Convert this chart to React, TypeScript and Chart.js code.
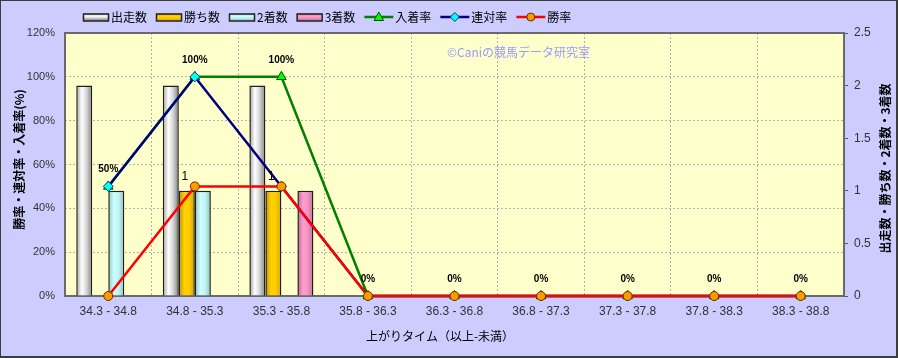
import React, { useEffect, useRef } from 'react';
import { Chart, registerables } from 'chart.js';

Chart.register(...registerables);

const categories = ['34.3 - 34.8', '34.8 - 35.3', '35.3 - 35.8', '35.8 - 36.3', '36.3 - 36.8', '36.8 - 37.3', '37.3 - 37.8', '37.8 - 38.3', '38.3 - 38.8'];
const runs = [2, 2, 2, 0, 0, 0, 0, 0, 0];
const wins = [0, 1, 1, 0, 0, 0, 0, 0, 0];
const seconds = [1, 1, 0, 0, 0, 0, 0, 0, 0];
const thirds = [0, 0, 1, 0, 0, 0, 0, 0, 0];
const placeRate = [50, 100, 100, 0, 0, 0, 0, 0, 0];
const quinellaRate = [50, 100, 50, 0, 0, 0, 0, 0, 0];
const winRate = [0, 50, 50, 0, 0, 0, 0, 0, 0];
const leftTicks = [0, 20, 40, 60, 80, 100, 120];
const rightTicks = [0, 0.5, 1, 1.5, 2, 2.5];

const LEFT_TITLE = '勝率・連対率・入着率(%)';
const RIGHT_TITLE = '出走数・勝ち数・2着数・3着数';
const X_TITLE = '上がりタイム（以上-未満）';
const WATERMARK = '©Caniの競馬データ研究室';

const FONT = '"Liberation Sans", "Noto Sans CJK JP", sans-serif';
const CJK = '"Noto Sans CJK JP", "Liberation Sans", sans-serif';

const CAT_PCT = 0.74;
const BAR_COUNT = 4;
const STOPS = [0, 0.35, 0.65, 1];
const BAR_GRADS = [
  ['#a0a0a0', '#ffffff', '#d4d4d4', '#7c7c7c'],
  ['#c09000', '#ffd200', '#ffcc00', '#d0a000'],
  ['#90c4c4', '#ccffff', '#c0f4f4', '#8cc0c0'],
  ['#c06090', '#ff9fcf', '#f294c4', '#c06c96'],
];

function cylinder(slot: number) {
  return (c: any) => {
    const chart = c.chart;
    const xs = chart.scales && chart.scales.x;
    const cols = BAR_GRADS[slot];
    if (!xs || c.type !== 'data' || !isFinite(xs.left)) return cols[1];
    const catW = (xs.right - xs.left) / categories.length;
    const barW = (catW * CAT_PCT) / BAR_COUNT;
    const cx = xs.getPixelForValue(c.dataIndex) + (slot - (BAR_COUNT - 1) / 2) * barW;
    if (!isFinite(cx)) return cols[1];
    const g = chart.ctx.createLinearGradient(cx - barW / 2, 0, cx + barW / 2, 0);
    STOPS.forEach((s, i) => g.addColorStop(s, cols[i]));
    return g;
  };
}

function drawMarker(ctx: CanvasRenderingContext2D, style: string, x: number, y: number, r: number, bg: string, bd: string) {
  ctx.save();
  ctx.beginPath();
  if (style === 'triangle') {
    ctx.moveTo(x, y - r);
    ctx.lineTo(x + r * 0.95, y + r * 0.7);
    ctx.lineTo(x - r * 0.95, y + r * 0.7);
    ctx.closePath();
  } else if (style === 'rectRot') {
    ctx.moveTo(x, y - r);
    ctx.lineTo(x + r, y);
    ctx.lineTo(x, y + r);
    ctx.lineTo(x - r, y);
    ctx.closePath();
  } else {
    ctx.arc(x, y, r, 0, Math.PI * 2);
  }
  ctx.fillStyle = bg;
  ctx.fill();
  ctx.lineWidth = 1;
  ctx.strokeStyle = bd;
  ctx.stroke();
  ctx.restore();
}

const decorPlugin = {
  id: 'decor',
  beforeDraw(chart: any) {
    const { ctx, chartArea: a } = chart;
    ctx.save();
    ctx.fillStyle = '#ccccff';
    ctx.fillRect(0, 0, chart.width, chart.height);
    ctx.fillStyle = '#ffffcc';
    ctx.fillRect(a.left, a.top, a.right - a.left, a.bottom - a.top);
    ctx.restore();
  },
  beforeDatasetsDraw(chart: any) {
    const { ctx, chartArea: a } = chart;
    ctx.save();
    ctx.strokeStyle = '#6a6a6a';
    ctx.lineWidth = 2;
    ctx.strokeRect(a.left, a.top, a.right - a.left, a.bottom - a.top);
    ctx.restore();
  },
  afterDatasetsDraw(chart: any) {
    const { ctx } = chart;
    const xs = chart.scales.x;
    const ys = chart.scales.y;
    ctx.save();
    ctx.fillStyle = '#000';
    ctx.textAlign = 'center';
    ctx.textBaseline = 'middle';
    ctx.font = 'bold 10px ' + FONT;
    placeRate.forEach((v, i) => {
      ctx.fillText(v + '%', xs.getPixelForValue(i), ys.getPixelForValue(v) - 17);
    });
    ctx.font = '12px ' + FONT;
    wins.forEach((w, i) => {
      if (w > 0) ctx.fillText(String(w), xs.getPixelForValue(i) - 10, ys.getPixelForValue(winRate[i]) - 10);
    });
    ctx.restore();
  },
  afterDraw(chart: any) {
    const { ctx, chartArea: a } = chart;
    ctx.save();
    // watermark
    ctx.font = '12px ' + CJK;
    ctx.fillStyle = '#9999ff';
    ctx.textAlign = 'left';
    ctx.textBaseline = 'middle';
    ctx.fillText(WATERMARK, 447, 52);

    // axis titles
    ctx.fillStyle = '#000';
    ctx.textAlign = 'center';
    ctx.font = '12px ' + CJK;
    ctx.fillText(X_TITLE, 440, 336);
    ctx.font = 'bold 12px ' + CJK;
    ctx.save();
    ctx.translate(19, (a.top + a.bottom) / 2 - 5);
    ctx.rotate(-Math.PI / 2);
    ctx.fillText(LEFT_TITLE, 0, 0);
    ctx.restore();
    ctx.save();
    ctx.translate(885, (a.top + a.bottom) / 2 + 4);
    ctx.rotate(-Math.PI / 2);
    ctx.fillText(RIGHT_TITLE, 0, 0);
    ctx.restore();

    // legend
    const ly = 17;
    let x = 83;
    ctx.font = '12px ' + CJK;
    ctx.textAlign = 'left';
    chart.data.datasets.forEach((ds: any) => {
      if (ds.type === 'bar') {
        const w = 25, h = 7;
        const slot = ds.slot;
        const g = ctx.createLinearGradient(0, ly - h / 2, 0, ly + h / 2);
        STOPS.forEach((s, i) => g.addColorStop(s, BAR_GRADS[slot][i]));
        ctx.fillStyle = g;
        ctx.fillRect(x, ly - h / 2, w, h);
        ctx.strokeStyle = '#222';
        ctx.lineWidth = 1.5;
        ctx.strokeRect(x + 0.5, ly - h / 2 + 0.5, w, h);
        x += w + 3;
      } else {
        const w = 29;
        ctx.strokeStyle = ds.borderColor;
        ctx.lineWidth = 2.5;
        ctx.beginPath();
        ctx.moveTo(x, ly);
        ctx.lineTo(x + w, ly);
        ctx.stroke();
        drawMarker(ctx, ds.pointStyle, x + w / 2, ly, ds.pointRadius - 0.5, ds.pointBackgroundColor, ds.pointBorderColor);
        x += w + 2;
      }
      ctx.fillStyle = '#000';
      ctx.fillText(ds.label, x, ly);
      x += ctx.measureText(ds.label).width + 9;
    });

    // outer border
    ctx.strokeStyle = '#3c3c3c';
    ctx.lineWidth = 1;
    ctx.strokeRect(0.5, 0.5, chart.width - 1, chart.height - 1);
    ctx.beginPath();
    ctx.moveTo(chart.width - 1.5, 0);
    ctx.lineTo(chart.width - 1.5, chart.height);
    ctx.moveTo(0, chart.height - 1.5);
    ctx.lineTo(chart.width, chart.height - 1.5);
    ctx.stroke();
    ctx.restore();
  },
};

export default function App() {
  const ref = useRef<HTMLCanvasElement | null>(null);
  useEffect(() => {
    if (!ref.current) return;
    const barBase = {
      type: 'bar' as const,
      yAxisID: 'y1',
      borderColor: '#1e1e1e',
      borderWidth: 1.5,
      borderSkipped: 'start' as const,
      categoryPercentage: CAT_PCT,
      barPercentage: 1,
      order: 10,
    };
    const lineBase = {
      type: 'line' as const,
      yAxisID: 'y',
      borderWidth: 2.5,
      tension: 0,
      pointBorderWidth: 1,
      clip: false as const,
    };
    const chart = new Chart(ref.current, {
      type: 'bar',
      data: {
        labels: categories,
        datasets: [
          { ...barBase, label: '出走数', data: runs, backgroundColor: cylinder(0), slot: 0 } as any,
          { ...barBase, label: '勝ち数', data: wins, backgroundColor: cylinder(1), slot: 1 } as any,
          { ...barBase, label: '2着数', data: seconds, backgroundColor: cylinder(2), slot: 2 } as any,
          { ...barBase, label: '3着数', data: thirds, backgroundColor: cylinder(3), slot: 3 } as any,
          {
            ...lineBase, label: '入着率', data: placeRate, borderColor: '#008000',
            pointStyle: 'triangle', pointRadius: 5.5, pointBackgroundColor: '#00ff00', pointBorderColor: '#005000', order: 2,
          } as any,
          {
            ...lineBase, label: '連対率', data: quinellaRate, borderColor: '#000080',
            pointStyle: 'rectRot', pointRadius: 5, pointBackgroundColor: '#00ffff', pointBorderColor: '#004060', order: 1,
          } as any,
          {
            ...lineBase, label: '勝率', data: winRate, borderColor: '#ff0000',
            pointStyle: 'circle', pointRadius: 4.5, pointBackgroundColor: '#ff9900', pointBorderColor: '#603000', order: 0,
          } as any,
        ],
      },
      options: {
        responsive: false,
        animation: false,
        devicePixelRatio: 1,
        layout: { padding: { top: 33, left: 0, right: 0, bottom: 0 } },
        plugins: { legend: { display: false }, tooltip: { enabled: false } },
        scales: {
          x: {
            type: 'category',
            offset: true,
            grid: { offset: true, color: '#b0b0b0', lineWidth: 1, drawTicks: false },
            border: { display: false, dash: [2, 2] },
            ticks: { color: '#333', font: { family: FONT, size: 12 }, padding: 8, maxRotation: 0, autoSkip: false },
            afterFit: (s: any) => { s.height = 62; },
          },
          y: {
            position: 'left',
            min: 0,
            max: 120,
            grid: { color: '#b0b0b0', lineWidth: 1, drawTicks: false },
            border: { display: false, dash: [2, 2] },
            ticks: { color: '#333', font: { family: FONT, size: 11 }, padding: 10, callback: (v: any) => v + '%' },
            afterBuildTicks: (s: any) => { s.ticks = leftTicks.map((v) => ({ value: v })); },
            afterFit: (s: any) => { s.width = 65; },
          },
          y1: {
            position: 'right',
            min: 0,
            max: 2.5,
            grid: { drawOnChartArea: false, drawTicks: true, tickLength: 4, tickColor: '#555', color: '#555' },
            border: { display: false },
            ticks: { color: '#333', font: { family: FONT, size: 12 }, padding: 6, callback: (v: any) => String(v) },
            afterBuildTicks: (s: any) => { s.ticks = rightTicks.map((v) => ({ value: v })); },
            afterFit: (s: any) => { s.width = 54; },
          },
        },
      },
      plugins: [decorPlugin],
    });
    return () => chart.destroy();
  }, []);
  return (
    <div style={{ position: 'absolute', left: 0, top: 0, width: 898, height: 358 }}>
      <canvas ref={ref} width={898} height={358} style={{ display: 'block' }} />
    </div>
  );
}
